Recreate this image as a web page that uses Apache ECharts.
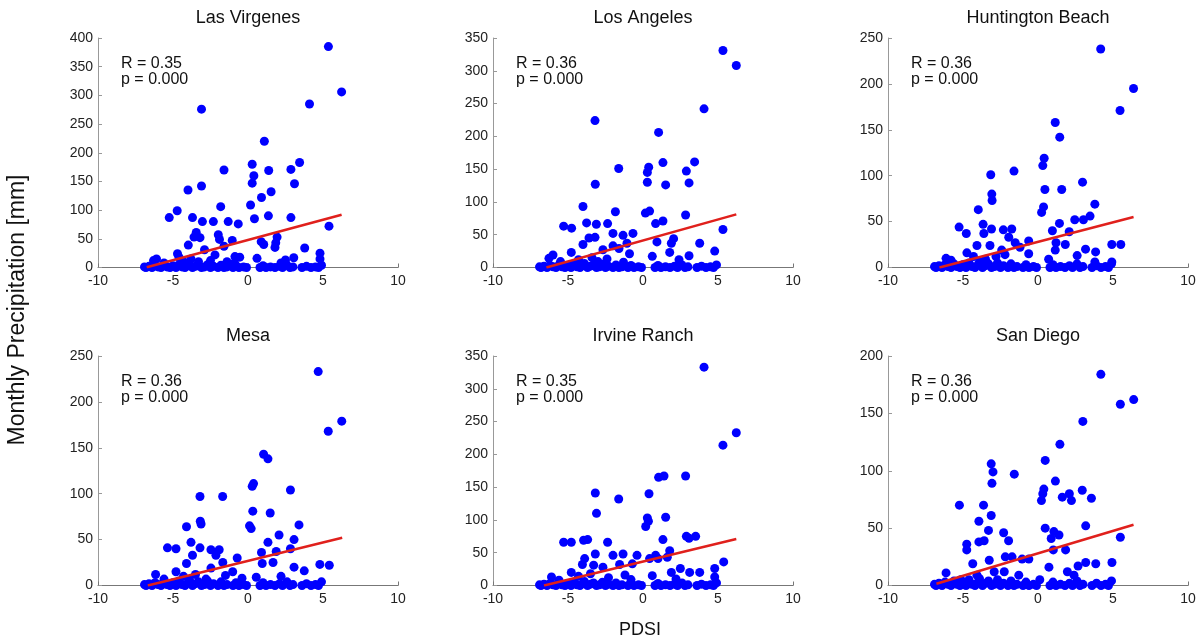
<!DOCTYPE html>
<html>
<head>
<meta charset="utf-8">
<script src="https://cdn.jsdelivr.net/npm/echarts@6/dist/echarts.min.js"></script>
<style>
  html, body { margin: 0; padding: 0; background: #fff; }
  #chart { width: 1199px; height: 643px; }
</style>
</head>
<body>
<div id="chart"></div>
<script>
// stations and stats printed in each panel
const stations = ['Las Virgenes', 'Los Angeles', 'Huntington Beach', 'Mesa', 'Irvine Ranch', 'San Diego'];
const rValues = ['0.35', '0.36', '0.36', '0.36', '0.35', '0.36'];
const pValues = ['0.000', '0.000', '0.000', '0.000', '0.000', '0.000'];
const yMax = [400, 350, 250, 250, 350, 200];

// months with (almost) no rain, same in every station: [PDSI, mm]
const dryMonths = [
  [-6.9, 1], [-6.8, 0], [-6.6, 2], [-6.4, 0], [-6.2, 3], [-6.0, 1], [-5.8, 0], [-5.6, 4], [-5.4, 1], [-5.2, 0],
  [-5.0, 3], [-4.8, 0], [-4.6, 5], [-4.4, 1], [-4.2, 0], [-4.0, 3], [-3.9, 6], [-3.7, 0], [-3.5, 2], [-3.3, 4],
  [-3.1, 0], [-2.9, 1], [-2.7, 5], [-2.5, 0], [-2.3, 2], [-2.0, 0], [-1.8, 4], [-1.6, 0], [-1.4, 1], [-1.0, 0],
  [-0.8, 3], [-0.6, 0], [-0.3, 1], [-0.1, 0], [0.8, 0], [1.0, 3], [1.2, 0], [1.5, 1], [1.8, 0], [2.1, 2],
  [2.3, 0], [2.6, 4], [2.8, 0], [3.0, 1], [3.6, 0], [3.9, 2], [4.2, 0], [4.5, 1], [4.7, 0], [4.9, 4]
];

const lasVirgenes = [
  [5.36, 385], [6.24, 306], [4.1, 285], [-3.1, 276], [1.09, 220], [3.44, 183], [0.28, 180], [-1.6, 170],
  [1.38, 169], [2.86, 171], [0.39, 160], [0.28, 147], [3.1, 146], [-4.0, 135], [-3.1, 142], [1.54, 132],
  [0.9, 122], [0.17, 109], [-1.82, 106], [-4.72, 99], [-5.25, 87], [-3.7, 87], [-3.04, 80], [-2.31, 80],
  [-1.32, 80], [-0.65, 76], [0.43, 85], [1.36, 90], [2.86, 87], [5.4, 72], [-3.45, 61], [-3.2, 52],
  [-3.6, 53], [-3.98, 39], [-1.98, 57], [-1.9, 49], [-1.05, 47], [0.88, 45], [1.05, 40], [1.94, 53],
  [1.85, 43], [1.8, 35], [3.78, 34], [-1.6, 37], [-2.9, 31], [-4.7, 24], [-2.2, 22], [-0.87, 19],
  [-0.55, 18], [0.6, 16], [3.05, 17], [4.8, 25], [4.8, 15], [-6.1, 15], [-6.3, 12], [2.5, 13],
  [-4.6, 18], [-3.8, 15], [-3.3, 10], [-2.5, 12], [-1.4, 10], [-5.6, 8], [-4.3, 10], [2.2, 8], [-0.9, 8]
];

const losAngeles = [
  [5.33, 331], [6.22, 308], [4.07, 242], [-3.2, 224], [1.04, 206], [3.44, 161], [0.38, 153], [1.33, 160],
  [-1.62, 151], [0.29, 145], [2.89, 147], [-3.18, 127], [0.29, 130], [3.07, 129], [1.51, 126], [-4.0, 93],
  [-1.84, 85], [0.16, 83], [0.44, 86], [2.84, 80], [-5.29, 63], [-4.76, 60], [-3.76, 68], [-3.11, 66],
  [-2.36, 67], [0.84, 67], [1.33, 71], [5.33, 58], [-0.67, 52], [-2.0, 52], [-1.33, 49], [-3.2, 46],
  [-3.6, 45], [0.93, 39], [2.04, 44], [1.89, 37], [3.78, 37], [-4.0, 35], [-1.07, 37], [-2.0, 33],
  [-1.6, 29], [-2.67, 27], [1.78, 23], [4.78, 25], [-4.78, 23], [-0.9, 21], [3.07, 18], [0.62, 17],
  [-6.0, 19], [-6.27, 14], [2.4, 12], [-4.3, 12], [-3.4, 15], [-2.4, 13], [-1.3, 8], [-5.5, 9], [-3.0, 9]
];

const huntingtonBeach = [
  [4.18, 238], [6.37, 195], [5.47, 171], [1.15, 158], [1.45, 142], [-1.6, 105], [-3.15, 101], [0.41, 119],
  [0.32, 111], [2.97, 93], [0.46, 85], [1.58, 85], [-3.08, 80], [-3.06, 73], [3.79, 69], [-3.98, 63],
  [0.37, 66], [0.24, 60], [3.47, 56], [3.03, 52], [2.45, 52], [-5.26, 44], [-4.78, 37], [-3.66, 47],
  [-3.61, 37], [-3.1, 42], [-2.31, 41], [-1.75, 42], [1.43, 48], [0.96, 40], [2.08, 39], [-1.95, 33],
  [-1.52, 27], [-0.62, 29], [1.2, 27], [1.82, 25], [4.92, 25], [5.52, 25], [-4.07, 24], [-3.2, 24],
  [-1.2, 22], [-2.42, 19], [3.17, 20], [3.84, 17], [2.61, 13], [1.15, 19], [-4.74, 16], [-0.62, 15],
  [-2.8, 12], [-6.13, 10], [0.71, 9], [3.79, 6], [4.92, 6], [-5.8, 8], [-4.3, 12], [-3.5, 9], [-2.2, 14]
];

const mesa = [
  [4.68, 233], [6.25, 179], [5.35, 168], [1.04, 143], [1.33, 138], [2.83, 104], [0.28, 108], [0.37, 111],
  [-3.2, 97], [-1.69, 97], [0.32, 81], [1.48, 79], [-3.18, 70], [-3.13, 67], [0.1, 65], [0.21, 62],
  [3.4, 66], [-4.1, 64], [3.07, 50], [2.07, 55], [1.33, 47], [-3.8, 47], [-5.37, 41], [-4.8, 40],
  [-3.2, 41], [-2.47, 39], [-1.92, 39], [2.83, 40], [0.9, 36], [1.88, 37], [-2.14, 33], [-3.7, 33],
  [-0.72, 30], [-1.68, 25], [-4.1, 24], [0.95, 24], [1.67, 25], [4.79, 23], [5.42, 22], [3.07, 20],
  [-2.47, 19], [-1.02, 15], [-4.8, 15], [3.75, 16], [0.55, 9], [-6.16, 12], [-2.8, 7], [-4.3, 10],
  [-3.5, 12], [-1.5, 11], [-5.6, 7], [2.2, 10], [-0.4, 8]
];

const irvineRanch = [
  [4.07, 333], [6.22, 233], [5.33, 214], [1.04, 165], [1.4, 167], [2.84, 167], [-3.18, 141], [0.4, 140],
  [-1.62, 132], [-3.1, 110], [0.29, 103], [0.36, 98], [1.51, 104], [0.18, 90], [1.33, 70], [2.89, 75],
  [3.07, 72], [3.51, 75], [-5.29, 66], [-4.78, 66], [-3.96, 69], [-3.69, 70], [-2.36, 66], [-3.18, 48],
  [-1.33, 48], [-2.0, 46], [0.84, 46], [1.78, 53], [1.62, 43], [-3.89, 41], [-0.4, 46], [0.44, 41],
  [1.0, 41], [-4.04, 32], [-1.56, 32], [-0.71, 33], [-3.29, 31], [5.38, 36], [4.78, 26], [2.49, 26],
  [3.11, 20], [3.78, 20], [-2.67, 28], [-4.78, 20], [0.62, 15], [1.89, 20], [4.78, 13], [-6.1, 13],
  [-4.3, 14], [-3.5, 18], [-2.3, 12], [-1.2, 16], [-5.6, 8], [2.2, 10], [-0.8, 9]
];

const sanDiego = [
  [4.19, 184], [6.38, 162], [5.49, 158], [2.99, 143], [1.46, 123], [0.48, 109], [-3.12, 106], [-3.0, 99],
  [-3.07, 89], [-1.58, 97], [1.16, 91], [0.39, 84], [0.32, 80], [0.23, 74], [2.95, 83], [2.09, 80],
  [1.62, 77], [2.23, 74], [3.56, 76], [-5.24, 70], [-3.63, 70], [-3.12, 61], [-3.94, 56], [-3.3, 48],
  [0.48, 50], [3.18, 52], [5.49, 42], [1.06, 47], [1.4, 44], [0.88, 41], [-2.29, 46], [-1.96, 39],
  [-3.59, 39], [-3.94, 38], [-4.75, 36], [-4.75, 31], [1.02, 31], [1.84, 31], [-2.18, 25], [-1.73, 25],
  [-1.06, 23], [-0.61, 23], [-3.25, 22], [-4.35, 19], [3.85, 19], [3.18, 20], [4.93, 20], [2.67, 17],
  [0.73, 16], [-6.13, 11], [-2.92, 12], [-2.25, 12], [1.96, 12], [2.4, 9], [-1.28, 9], [-4.07, 9],
  [-5.15, 5], [0.12, 5]
];

const stationPoints = [lasVirgenes, losAngeles, huntingtonBeach, mesa, irvineRanch, sanDiego];

// least-squares fit lines, start and end
const trendLines = [
  [[-6.75, 0.5], [6.24, 92]],
  [[-6.44, 0], [6.22, 81]],
  [[-6.57, 0], [6.37, 55]],
  [[-6.68, 0], [6.28, 52]],
  [[-6.6, 0], [6.22, 71]],
  [[-6.77, 1.5], [6.37, 53]]
];

const FONT = "'Liberation Sans', Arial, sans-serif";
const gridLefts = [98, 493, 888];
const gridTops = [38, 356];
const gridW = 300;
const gridH = 229.5;

const grids = [], xAxes = [], yAxes = [], series = [], texts = [];

stations.forEach(function (name, i) {
    const left = gridLefts[i % 3];
    const top = gridTops[Math.floor(i / 3)];
    grids.push({ left: left, top: top, width: gridW, height: gridH });
    xAxes.push({
        gridIndex: i, type: 'value', min: -10, max: 10, interval: 5,
        axisLine: { onZero: false, lineStyle: { color: '#777', width: 1 } },
        axisTick: { show: true, inside: true, length: 4, lineStyle: { color: '#777' } },
        axisLabel: { color: '#222', fontSize: 14, fontFamily: FONT, margin: 7 },
        splitLine: { show: false }
    });
    yAxes.push({
        gridIndex: i, type: 'value', min: 0, max: yMax[i], interval: 50,
        axisLine: { show: true, onZero: false, lineStyle: { color: '#999', width: 1 } },
        axisTick: { show: true, inside: true, length: 4, lineStyle: { color: '#999' } },
        axisLabel: { color: '#222', fontSize: 14, fontFamily: FONT, margin: 5 },
        splitLine: { show: false }
    });
    series.push({
        type: 'scatter', xAxisIndex: i, yAxisIndex: i,
        symbolSize: 9,
        itemStyle: { color: '#0000ff', opacity: 1 },
        data: stationPoints[i].concat(dryMonths),
        z: 2
    });
    series.push({
        type: 'line', xAxisIndex: i, yAxisIndex: i,
        data: trendLines[i], symbol: 'none',
        lineStyle: { color: '#e0201c', width: 2.5 },
        z: 3
    });
    // panel title and R / p annotation
    texts.push({
        type: 'text', x: left + gridW / 2, y: top - 20,
        style: { text: name, fontSize: 18, fontFamily: FONT, fill: '#111', align: 'center', verticalAlign: 'middle' }
    });
    texts.push({
        type: 'text', x: left + 23, y: top + 26,
        style: { text: 'R = ' + rValues[i], fontSize: 16, fontFamily: FONT, fill: '#111', verticalAlign: 'middle' }
    });
    texts.push({
        type: 'text', x: left + 23, y: top + 42,
        style: { text: 'p = ' + pValues[i], fontSize: 16, fontFamily: FONT, fill: '#111', verticalAlign: 'middle' }
    });
});

texts.push({
    type: 'text', x: 18, y: 310, rotation: Math.PI / 2,
    style: { text: 'Monthly Precipitation [mm]', fontSize: 23, fontFamily: FONT, fill: '#111', align: 'center', verticalAlign: 'middle' }
});
texts.push({
    type: 'text', x: 640, y: 630,
    style: { text: 'PDSI', fontSize: 18, fontFamily: FONT, fill: '#111', align: 'center', verticalAlign: 'middle' }
});

const myChart = echarts.init(document.getElementById('chart'));
myChart.setOption({
    animation: false,
    backgroundColor: '#fff',
    grid: grids,
    xAxis: xAxes,
    yAxis: yAxes,
    series: series,
    graphic: texts
});
</script>
</body>
</html>
